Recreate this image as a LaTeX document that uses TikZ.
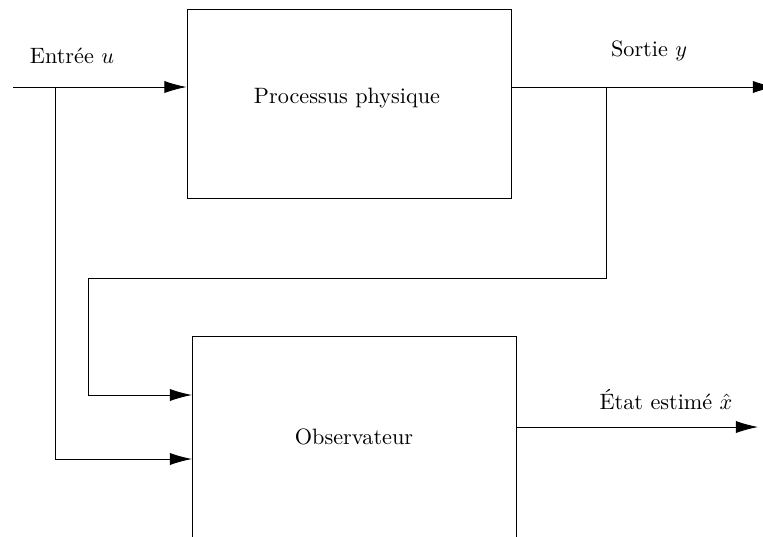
\documentclass[tikz,border=0pt]{standalone}
\usetikzlibrary{arrows.meta}
\begin{document}
\begin{tikzpicture}[x=0.45pt,y=-0.45pt,
  blockbox/.style={draw,line width=0.4pt,minimum width=145.8pt,inner sep=0pt},
  conn/.style={line width=0.4pt},
  arr/.style={conn,-{Latex[length=10pt,width=5.5pt]}},
  lbl/.style={inner sep=0pt,font=\normalsize}]
\useasboundingbox (0,0) rectangle (763,536);
\clip (0,0) rectangle (763,536);
\node[blockbox,minimum height=85pt] (proc) at (349,103.5) {};
\node[lbl] (proctxt) at (347,98) {Processus physique};
\node[blockbox,minimum height=94.5pt,anchor=north] (obs) at (354,336) {};
\node[lbl] (obstxt) at (354,437) {Observateur};
\coordinate (in) at (13,87);
\coordinate (ju) at (55,87);
\coordinate (jy) at (606,87);
\coordinate (out) at (775,87);
\coordinate (xout) at (758,427);
\coordinate (obsA) at (192,395);
\coordinate (obsB) at (192,459);
\node[lbl] (lu) at (72,56) {Entr\'ee $u$};
\node[lbl] (ly) at (649,51) {Sortie $y$};
\node[lbl] (lx) at (666,400) {\'Etat estim\'e $\hat{x}$};
\draw[arr] (in) -- (proc.west |- in);
\draw[arr] (proc.east |- out) -- (out);
\draw[arr] (ju) |- (obsB);
\draw[arr] (jy) -- (606,278) -- (88,278) |- (obsA);
\draw[arr] (obs.east |- xout) -- (xout);
\end{tikzpicture}
\end{document}
